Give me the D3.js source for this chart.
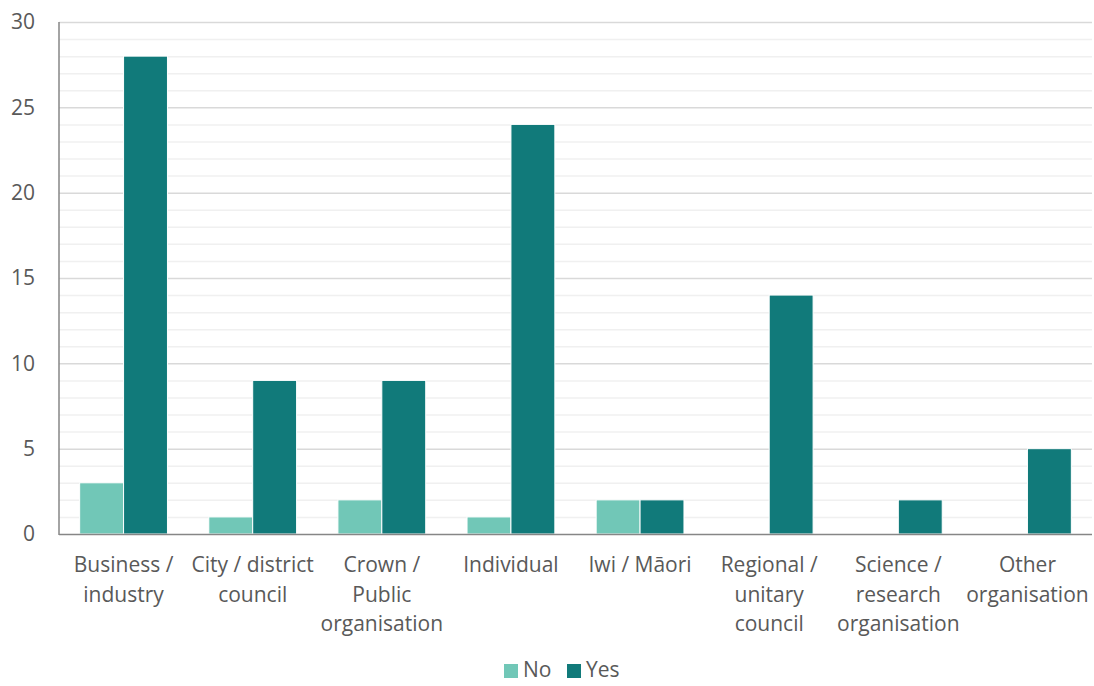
<!DOCTYPE html>
<html>
<head>
<meta charset="utf-8">
<script src="https://cdn.jsdelivr.net/npm/d3@7"></script>
<style>
  html, body { margin: 0; padding: 0; background: #fff; }
  svg { display: block; font-family: "Open Sans", "Noto Sans", sans-serif; }
</style>
</head>
<body>
<svg id="chart" width="1094" height="686"></svg>
<script>
// Respondent types and counts by answer
const categories = [
  ["Business /", "industry"],
  ["City / district", "council"],
  ["Crown /", "Public", "organisation"],
  ["Individual"],
  ["Iwi / Māori"],
  ["Regional /", "unitary", "council"],
  ["Science /", "research", "organisation"],
  ["Other", "organisation"]
];
const seriesNames = ["No", "Yes"];
const noValues  = [3, 1, 2, 1, 2, 0, 0, 0];
const yesValues = [28, 9, 9, 24, 2, 14, 2, 5];
const yTicks = [0, 5, 10, 15, 20, 25, 30];
const colors = ["#71C7B7", "#117A7A"];

const svg = d3.select("#chart");
const margin = { left: 59, right: 2, top: 22, bottom: 152 };
const W = 1094, H = 686;
const FS = 21;
const x0 = d3.scaleBand().domain(d3.range(categories.length))
  .range([margin.left, W - margin.right]).paddingInner(0.32).paddingOuter(0.16);
const x1 = d3.scaleBand().domain(seriesNames).range([0, x0.bandwidth()]);
const y = d3.scaleLinear().domain([0, 30]).range([H - margin.bottom, margin.top]);

// minor gridlines
svg.append("g").selectAll("line").data(d3.range(0, 31).filter(v => v % 5 !== 0))
  .join("line")
  .attr("x1", margin.left).attr("x2", W - margin.right)
  .attr("y1", d => y(d) + 0.5).attr("y2", d => y(d) + 0.5)
  .attr("stroke", "#f0f0f0").attr("stroke-width", 1.5);
// major gridlines
svg.append("g").selectAll("line").data(yTicks.filter(v => v > 0))
  .join("line")
  .attr("x1", margin.left).attr("x2", W - margin.right)
  .attr("y1", d => y(d) + 0.5).attr("y2", d => y(d) + 0.5)
  .attr("stroke", "#d9d9d9").attr("stroke-width", 1.5);

// bars
const data = categories.map((c, i) => ({ i, vals: [noValues[i], yesValues[i]] }));
const groups = svg.append("g").selectAll("g").data(data).join("g")
  .attr("transform", d => `translate(${x0(d.i)},0)`);
groups.selectAll("rect")
  .data(d => d.vals.map((v, k) => ({ k, v })).filter(e => e.v > 0))
  .join("rect")
  .attr("x", e => x1(seriesNames[e.k]))
  .attr("width", x1.bandwidth())
  .attr("y", e => y(e.v))
  .attr("height", e => y(0) - y(e.v))
  .attr("fill", e => colors[e.k])
  .attr("stroke", "#fff").attr("stroke-width", 1);

// axis lines
svg.append("line").attr("x1", margin.left).attr("x2", margin.left)
  .attr("y1", y(30)).attr("y2", y(0) + 1)
  .attr("stroke", "#868686").attr("stroke-width", 1.5);
svg.append("line").attr("x1", margin.left).attr("x2", W - margin.right)
  .attr("y1", y(0) + 0.5).attr("y2", y(0) + 0.5)
  .attr("stroke", "#868686").attr("stroke-width", 1.5);

// y tick labels
svg.append("g").selectAll("text").data(yTicks).join("text")
  .attr("x", 35).attr("y", d => y(d)).attr("dy", "0.35em")
  .attr("text-anchor", "end").attr("fill", "#595959").attr("font-size", FS)
  .text(d => d);

// category labels
const catG = svg.append("g").selectAll("text").data(categories).join("text")
  .attr("x", (d, i) => x0(i) + x0.bandwidth() / 2)
  .attr("y", 572)
  .attr("text-anchor", "middle").attr("fill", "#595959").attr("font-size", FS);
catG.selectAll("tspan").data(d => d).join("tspan")
  .attr("x", function () { return this.parentNode.getAttribute("x"); })
  .attr("dy", (d, k) => k === 0 ? 0 : 29.5)
  .text(d => d);

// legend
const legend = svg.append("g").attr("transform", "translate(504,670)");
const items = [{ name: "No", dx: 0 }, { name: "Yes", dx: 63 }];
items.forEach((it, k) => {
  legend.append("rect").attr("x", it.dx).attr("y", -6).attr("width", 14).attr("height", 14)
    .attr("fill", colors[k]);
  legend.append("text").attr("x", it.dx + 19).attr("y", 0).attr("dy", "0.35em")
    .attr("fill", "#595959").attr("font-size", FS).text(it.name);
});
</script>
</body>
</html>
